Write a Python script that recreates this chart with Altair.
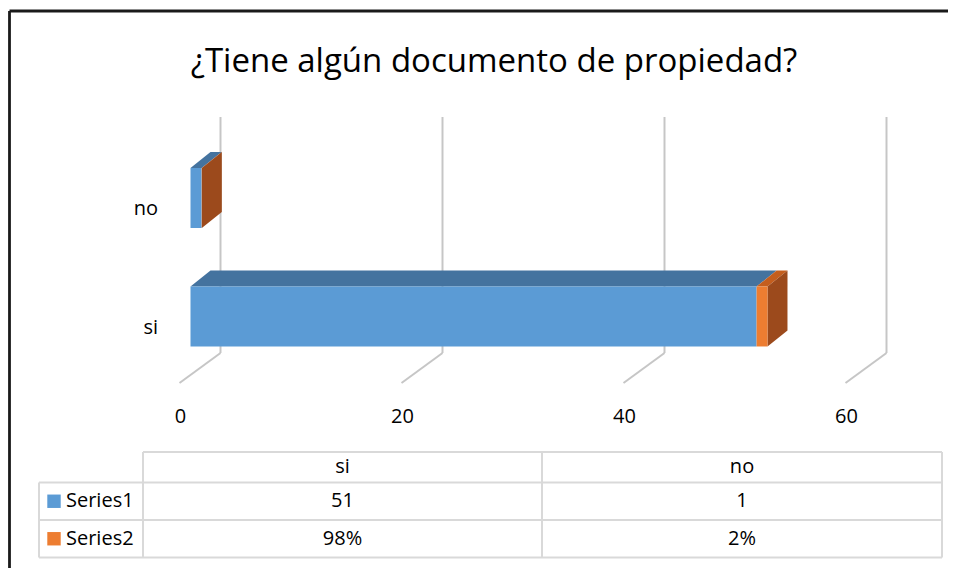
import altair as alt
import pandas as pd

# ---------------- data ----------------
title_text = "¿Tiene algún documento de propiedad?"
categories = ["si", "no"]
series_names = ["Series1", "Series2"]
series1 = [51, 1]
series2 = [0.98, 0.02]
tick_values = [0, 20, 40, 60]

# ---------------- layout / style ----------------
W, H = 940, 560
FONT = "Open Sans"
PX0 = 182.5      # pixel of value 0 on the bars' front face
K = 11.1         # pixels per unit
Y0 = 308.5       # pixel of first category centre
BAND = 118.5     # pixels between categories
HALF = 0.253     # half bar thickness (category units)
DX = 20.0 / K    # 3D depth in value units
DY = 16.0 / BAND # 3D depth in category units

x_dom = [-PX0 / K, (W - PX0) / K]
y_dom = [(Y0 - H) / BAND, Y0 / BAND]
xs = alt.Scale(domain=x_dom, nice=False, zero=False)
ys = alt.Scale(domain=y_dom, nice=False, zero=False)

front_colors = {"Series1": "#5B9BD5", "Series2": "#ED7D31"}
top_colors = {"Series1": "#44739F", "Series2": "#C45E1E"}
side_color = "#9C4A1C"
grid_color = "#C6C6C6"
table_line = "#D9D9D9"

# ---------------- geometry derived from the values ----------------
front_rows, top_rows, side_rows = [], [], []
for i, cat in enumerate(categories):
    vals = [series1[i], series2[i]]
    start = 0.0
    for s, v in zip(series_names, vals):
        end = start + v
        front_rows.append(dict(cat=cat, series=s, x=start, x2=end,
                               y=i - HALF, y2=i + HALF, fill=front_colors[s]))
        face = f"{cat}-{s}"
        top_rows.append(dict(face=face, y=i + HALF, x=start, x2=end, fill=top_colors[s]))
        top_rows.append(dict(face=face, y=i + HALF + DY, x=start + DX, x2=end + DX, fill=top_colors[s]))
        start = end
    side_rows.append(dict(face=cat, x=start, y=i - HALF, y2=i + HALF, fill=side_color))
    side_rows.append(dict(face=cat, x=start + DX, y=i - HALF + DY, y2=i + HALF + DY, fill=side_color))

front_df = pd.DataFrame(front_rows)
top_df = pd.DataFrame(top_rows)
side_df = pd.DataFrame(side_rows)
ticks_df = pd.DataFrame({"v": tick_values, "label": [str(t) for t in tick_values]})
cats_df = pd.DataFrame({"cat": categories, "idx": list(range(len(categories)))})

# ---------------- chart layers ----------------
grid = alt.Chart(ticks_df).mark_rule(color=grid_color, strokeWidth=2, xOffset=30).encode(
    x=alt.X("v:Q", scale=xs, axis=None), y=alt.value(109), y2=alt.value(345))

floor = alt.Chart(ticks_df).mark_rule(color=grid_color, strokeWidth=2, xOffset=30, x2Offset=-11).encode(
    x=alt.X("v:Q", scale=xs, axis=None), x2="v:Q", y=alt.value(345), y2=alt.value(375))

tick_labels = alt.Chart(ticks_df).mark_text(dx=-10, fontSize=20, font=FONT, color="#000000").encode(
    x=alt.X("v:Q", scale=xs, axis=None), y=alt.value(409), text="label:N")

tops = alt.Chart(top_df).mark_area(orient="horizontal").encode(
    y=alt.Y("y:Q", scale=ys, axis=None, stack=None),
    x=alt.X("x:Q", scale=xs, axis=None, stack=None), x2="x2:Q",
    detail="face:N", fill=alt.Fill("fill:N", scale=None))

sides = alt.Chart(side_df).mark_area(orient="vertical").encode(
    x=alt.X("x:Q", scale=xs, axis=None, stack=None),
    y=alt.Y("y:Q", scale=ys, axis=None, stack=None), y2="y2:Q",
    detail="face:N", fill=alt.Fill("fill:N", scale=None))

fronts = alt.Chart(front_df).mark_rect().encode(
    x=alt.X("x:Q", scale=xs, axis=None), x2="x2:Q",
    y=alt.Y("y:Q", scale=ys, axis=None), y2="y2:Q",
    fill=alt.Fill("fill:N", scale=None))

cat_labels = alt.Chart(cats_df).mark_text(align="right", dy=11, fontSize=20, font=FONT, color="#000000").encode(
    x=alt.value(150), y=alt.Y("idx:Q", scale=ys, axis=None), text="cat:N")

title = alt.Chart(pd.DataFrame({"t": [title_text]})).mark_text(
    fontSize=33, font=FONT, color="#000000", baseline="middle").encode(
    x=alt.value(486), y=alt.value(54), text="t:N")

# ---------------- data table ----------------
col_x = [31, 135, 534, 934]
row_y = [444, 474.5, 512, 549.5]
lines = []
lines.append(dict(x=col_x[1], x2=col_x[3], y=row_y[0], y2=row_y[0]))
for ry in row_y[1:]:
    lines.append(dict(x=col_x[0], x2=col_x[3], y=ry, y2=ry))
for cx in col_x[1:]:
    lines.append(dict(x=cx, x2=cx, y=row_y[0], y2=row_y[3]))
lines.append(dict(x=col_x[0], x2=col_x[0], y=row_y[1], y2=row_y[3]))
lines_df = pd.DataFrame(lines)

table_lines = alt.Chart(lines_df).mark_rule(color=table_line, strokeWidth=2).encode(
    x=alt.X("x:Q", scale=None), x2="x2:Q", y=alt.Y("y:Q", scale=None), y2="y2:Q")

cells = []
col_centres = [(col_x[1] + col_x[2]) / 2, (col_x[2] + col_x[3]) / 2]
row_centres = [(row_y[k] + row_y[k + 1]) / 2 for k in range(3)]
for j, cat in enumerate(categories):
    cells.append(dict(x=col_centres[j], y=row_centres[0], text=cat))
    cells.append(dict(x=col_centres[j], y=row_centres[1], text=str(series1[j])))
    cells.append(dict(x=col_centres[j], y=row_centres[2], text=f"{series2[j]:.0%}"))
cells_df = pd.DataFrame(cells)

table_text = alt.Chart(cells_df).mark_text(fontSize=20, font=FONT, color="#000000", baseline="middle").encode(
    x=alt.X("x:Q", scale=None), y=alt.Y("y:Q", scale=None), text="text:N")

legend_df = pd.DataFrame({
    "name": series_names,
    "y": row_centres[1:],
    "fill": [front_colors[s] for s in series_names],
})
legend_sq = alt.Chart(legend_df).mark_square(size=180, opacity=1).encode(
    x=alt.value(46), y=alt.Y("y:Q", scale=None), fill=alt.Fill("fill:N", scale=None))
legend_txt = alt.Chart(legend_df).mark_text(align="left", baseline="middle", fontSize=20, font=FONT, color="#000000").encode(
    x=alt.value(58), y=alt.Y("y:Q", scale=None), text="name:N")

# ---------------- border (top and left edges visible) ----------------
border = alt.Chart(pd.DataFrame({"x": [1.5, 1.5], "x2": [W, 1.5], "y": [3, 3], "y2": [3, H]})).mark_rule(
    color="#1A1A1A", strokeWidth=2.8).encode(
    x=alt.X("x:Q", scale=None), x2="x2:Q", y=alt.Y("y:Q", scale=None), y2="y2:Q")

chart = alt.layer(
    grid, floor, tick_labels, tops, sides, fronts, cat_labels, title,
    table_lines, table_text, legend_sq, legend_txt, border
).properties(
    width=W, height=H, padding=0, autosize=alt.AutoSizeParams(type="none")
).configure_view(stroke=None)

chart.save("out.html", embed_options={"renderer": "svg", "actions": False})
